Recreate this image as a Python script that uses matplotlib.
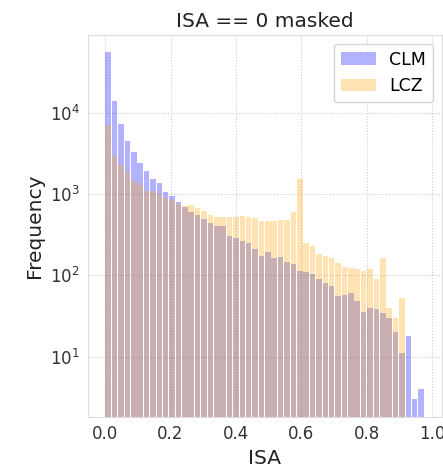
import numpy as np
import matplotlib
matplotlib.use("Agg")
import matplotlib.pyplot as plt

# histogram counts, 50 bins over ISA 0 .. 0.975
bin_edges = np.linspace(0, 0.975, 51)
clm_counts = [56000, 13900, 7200, 4550, 3270, 2390, 1940, 1530, 1370, 1050,
              950, 800, 690, 595, 550, 490, 440, 405, 400, 306,
              287, 266, 253, 210, 173, 194, 165, 170, 146, 137,
              113, 110, 103, 89, 81, 74, 56, 58, 61, 48,
              35, 40, 38, 34, 30, 20, 11, 18, 3, 4]
lcz_counts = [7100, 2900, 2280, 1890, 1460, 1290, 1080, 1080, 1000, 885,
              850, 760, 718, 731, 666, 622, 560, 515, 515, 515,
              515, 540, 520, 501, 469, 469, 469, 482, 482, 606,
              1530, 253, 230, 181, 173, 165, 143, 125, 124, 119,
              113, 119, 89, 165, 40, 30, 53, 0, 0, 0]

centers = (bin_edges[:-1] + bin_edges[1:]) / 2

fig = plt.figure(figsize=(4.43, 4.72), dpi=100)
ax = fig.add_axes([0.1986, 0.1165, 0.7991, 0.8095])

ax.hist(centers, bins=bin_edges, weights=clm_counts, color="blue", alpha=0.3,
        rwidth=0.87, log=True, label="CLM")
ax.hist(centers, bins=bin_edges, weights=lcz_counts, color="orange", alpha=0.3,
        rwidth=0.87, log=True, label="LCZ")

ax.set_xlim(-0.052, 1.029)
ax.set_ylim(1.8, 91000)
ax.set_xticks([0.0, 0.2, 0.4, 0.6, 0.8, 1.0])

ax.grid(True, linestyle=":", color="#cccccc", linewidth=0.8)
ax.set_axisbelow(True)
for s in ax.spines.values():
    s.set_color("#dddddd")
ax.tick_params(length=0, labelsize=12, colors="#333333", pad=6)
ax.minorticks_off()

ax.set_title("ISA == 0 masked", fontsize=14.5, color="#222222")
ax.set_xlabel("ISA", fontsize=14.5, color="#222222")
ax.set_ylabel("Frequency", fontsize=14.5, color="#222222")
ax.legend(loc="upper right", fontsize=12.5, handlelength=2.0)

fig.savefig("out.png", dpi=100)
